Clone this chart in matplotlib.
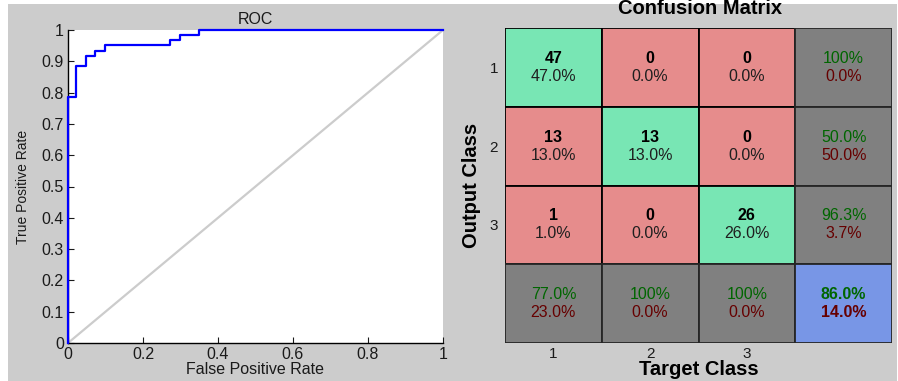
import numpy as np
import matplotlib
matplotlib.use("Agg")
import matplotlib.pyplot as plt
from matplotlib.patches import Rectangle

plt.rcParams['font.family'] = ['Liberation Sans', 'DejaVu Sans']

# ROC curve corner points (steps-post)
fpr = [0.0, 0.0, 0.022, 0.048, 0.073, 0.099, 0.272, 0.298, 0.348, 1.0]
tpr = [0.0, 0.787, 0.885, 0.918, 0.934, 0.951, 0.967, 0.984, 1.0, 1.0]
roc_ticks = [0, 0.1, 0.2, 0.3, 0.4, 0.5, 0.6, 0.7, 0.8, 0.9, 1]
roc_xticks = [0, 0.2, 0.4, 0.6, 0.8, 1]

# Confusion matrix counts: rows = output class, cols = target class
class_labels = ['1', '2', '3']
counts = np.array([[47, 0, 0],
                   [13, 13, 0],
                   [1, 0, 26]])

GREEN = (120 / 255, 230 / 255, 180 / 255)
RED = (230 / 255, 140 / 255, 140 / 255)
GREY = (0.5, 0.5, 0.5)
BLUE = (120 / 255, 150 / 255, 230 / 255)
TXT_GOOD = (0.0, 0.4, 0.0)
TXT_BAD = (0.4, 0.0, 0.0)
BG = (0.8, 0.8, 0.8)
CELL_FS = 11.5

W, H = 898, 381
fig = plt.figure(figsize=(W / 100, H / 100), dpi=100, facecolor='white')

# grey figure panel
fig.patches.append(Rectangle((8 / W, 0), (897 - 8) / W, (H - 4) / H,
                             transform=fig.transFigure, facecolor=BG,
                             edgecolor='none', zorder=-10))


def fx(px):
    return px / W


def fy(py):
    return 1 - py / H


# ---------------- ROC ----------------
ax = fig.add_axes([fx(68), fy(343), fx(443) - fx(68), fy(30) - fy(343)])
ax.set_facecolor('white')
ax.plot([0, 1], [0, 1], color=(0.8, 0.8, 0.8), lw=1.6, zorder=2)
ax.plot(fpr, tpr, drawstyle='steps-post', color=(0, 0, 1), lw=1.6,
        zorder=3, clip_on=False)
ax.set_xlim(0, 1)
ax.set_ylim(0, 1)
ax.set_xticks(roc_xticks)
ax.set_xticklabels([f'{v:g}' for v in roc_xticks])
ax.set_yticks(roc_ticks)
ax.set_yticklabels([f'{v:g}' for v in roc_ticks])
ax.tick_params(direction='in', length=4, width=0.8, labelsize=11.5,
               colors=(0.1, 0.1, 0.1), pad=3)
for s in ('top', 'right'):
    ax.spines[s].set_visible(False)
for s in ('left', 'bottom'):
    ax.spines[s].set_linewidth(1.0)
    ax.spines[s].set_color('black')
ax.set_title('ROC', fontsize=11.5, pad=4, color=(0.1, 0.1, 0.1))
ax.set_xlabel('False Positive Rate', fontsize=11.5, labelpad=0,
              color=(0.1, 0.1, 0.1))
ax.set_ylabel('True Positive Rate', fontsize=10, labelpad=8,
              color=(0.1, 0.1, 0.1))

# ---------------- Confusion matrix ----------------
cm = fig.add_axes([fx(505), fy(343), fx(892) - fx(505), fy(28) - fy(343)])
n = len(class_labels)
cm.set_xlim(0, n + 1)
cm.set_ylim(n + 1, 0)
total = counts.sum()


def pct(v):
    return '100%' if abs(v - 100) < 1e-9 else f'{v:.1f}%'


def cell(x, y, face, edge, top, bottom, top_kw, bottom_kw):
    cm.add_patch(Rectangle((x, y), 1, 1, facecolor=face, edgecolor=edge,
                           lw=1.3))
    cm.text(x + 0.5, y + 0.5 - 0.115, top, ha='center', va='center',
            fontsize=CELL_FS, **top_kw)
    cm.text(x + 0.5, y + 0.5 + 0.115, bottom, ha='center', va='center',
            fontsize=CELL_FS, **bottom_kw)


for i in range(n):
    for j in range(n):
        cell(j, i, GREEN if i == j else RED, 'black',
             str(counts[i, j]), pct(100 * counts[i, j] / total),
             dict(fontweight='bold', color='black'),
             dict(color=(0.12, 0.12, 0.12)))

# row summaries (precision)
for i in range(n):
    rs = counts[i].sum()
    good = 100 * counts[i, i] / rs if rs else 0
    cell(n, i, GREY, (0.15, 0.15, 0.15), pct(good), pct(100 - good),
         dict(color=TXT_GOOD), dict(color=TXT_BAD))

# column summaries (recall)
for j in range(n):
    cs = counts[:, j].sum()
    good = 100 * counts[j, j] / cs if cs else 0
    cell(j, n, GREY, (0.15, 0.15, 0.15), pct(good), pct(100 - good),
         dict(color=TXT_GOOD), dict(color=TXT_BAD))

# overall accuracy
acc = 100 * np.trace(counts) / total
cell(n, n, BLUE, (0.15, 0.15, 0.15), pct(acc), pct(100 - acc),
     dict(color=TXT_GOOD, fontweight='bold'),
     dict(color=TXT_BAD, fontweight='bold'))

cm.set_xticks(np.arange(n) + 0.5)
cm.set_xticklabels(class_labels)
cm.set_yticks(np.arange(n) + 0.5)
cm.set_yticklabels(class_labels)
cm.tick_params(length=0, labelsize=11, colors=(0.1, 0.1, 0.1))
cm.tick_params(axis='x', pad=3)
cm.tick_params(axis='y', pad=5)
for s in cm.spines.values():
    s.set_visible(False)
cm.set_xlabel('Target Class', fontsize=14.5, fontweight='bold', labelpad=-1)
cm.set_ylabel('Output Class', fontsize=14.5, fontweight='bold', labelpad=6)
fig.text(fx(700), fy(9), 'Confusion Matrix', ha='center', va='center',
         fontsize=14.5, fontweight='bold')

fig.savefig('out.png', dpi=100, facecolor='white')
